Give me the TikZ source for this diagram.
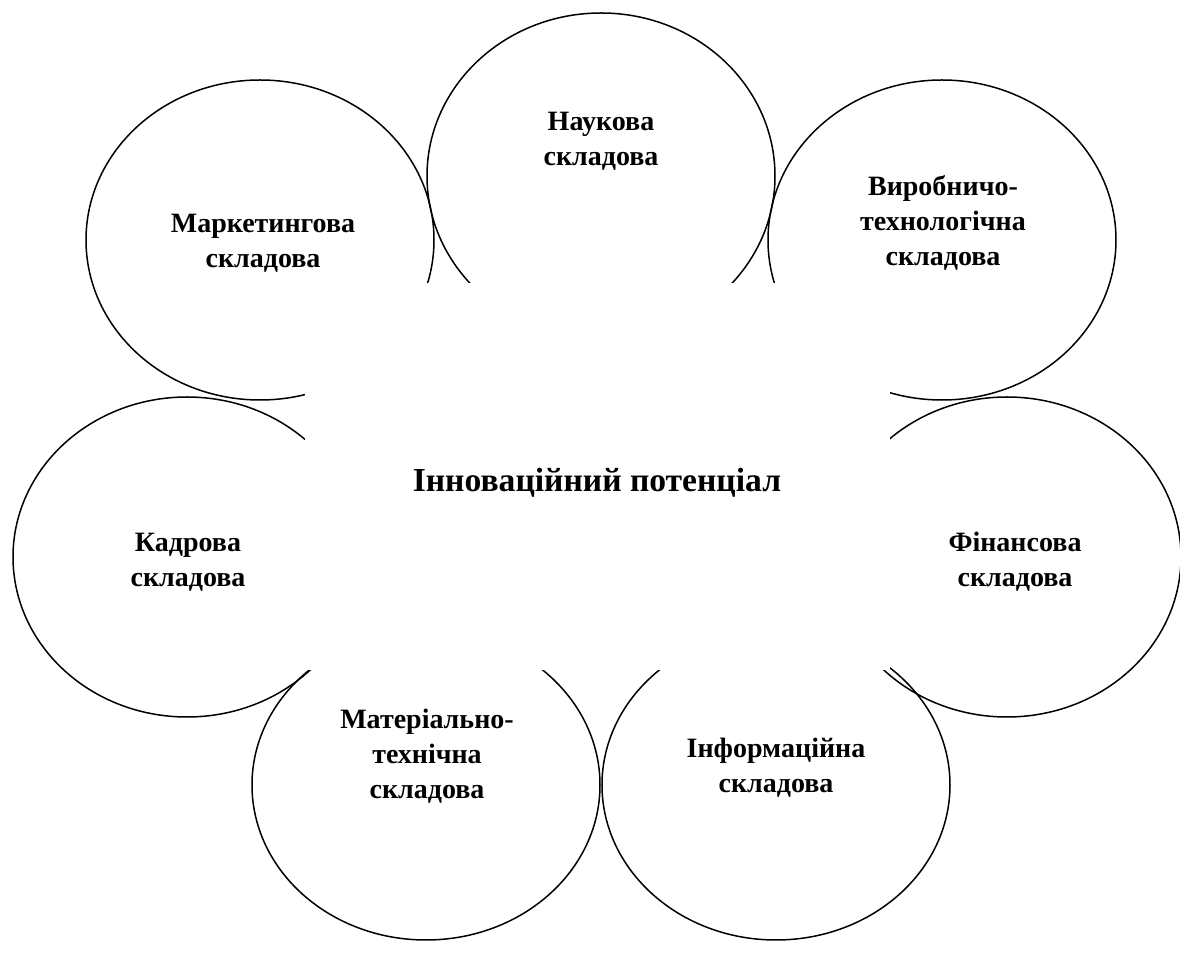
\documentclass[tikz,border=0pt]{standalone}
\usepackage{fontspec}
\setmainfont{Liberation Serif}
\begin{document}
\begin{tikzpicture}[x=0.5pt,y=-0.5pt,
  petal/.style={draw=black,line width=0.75pt},
  lbl/.style={align=center,font=\bfseries\fontsize{14}{17.5}\selectfont,inner sep=0pt},
  ttl/.style={align=center,font=\bfseries\fontsize{16.8}{19}\selectfont,inner sep=0pt}]
\useasboundingbox (0,0) rectangle (1180,956);
\draw[petal] (601,176) ellipse [x radius=87pt,y radius=81.5pt];
\draw[petal] (260,240) ellipse [x radius=87pt,y radius=80pt];
\draw[petal] (942,240) ellipse [x radius=87pt,y radius=80pt];
\draw[petal] (187,557) ellipse [x radius=87pt,y radius=80pt];
\draw[petal] (1007,557) ellipse [x radius=87pt,y radius=80pt];
\draw[petal] (426,785) ellipse [x radius=87pt,y radius=77.5pt];
\draw[petal] (776,785) ellipse [x radius=87pt,y radius=77.5pt];
\fill[white] (305,283) rectangle (890,670);
\node[lbl] (nauk) at (601,141) {Наукова\\складова};
\node[lbl] (mark) at (263,243) {Маркетингова\\складова};
\node[lbl] (vyr) at (943,223) {Виробничо-\\технологічна\\складова};
\node[ttl] (center) at (597,483) {Інноваційний потенціал};
\node[lbl] (kadr) at (188,562) {Кадрова\\складова};
\node[lbl] (fin) at (1015,562) {Фінансова\\складова};
\node[lbl] (mat) at (427,756) {Матеріально-\\технічна\\складова};
\node[lbl] (inf) at (776,768) {Інформаційна\\складова};
\end{tikzpicture}
\end{document}
